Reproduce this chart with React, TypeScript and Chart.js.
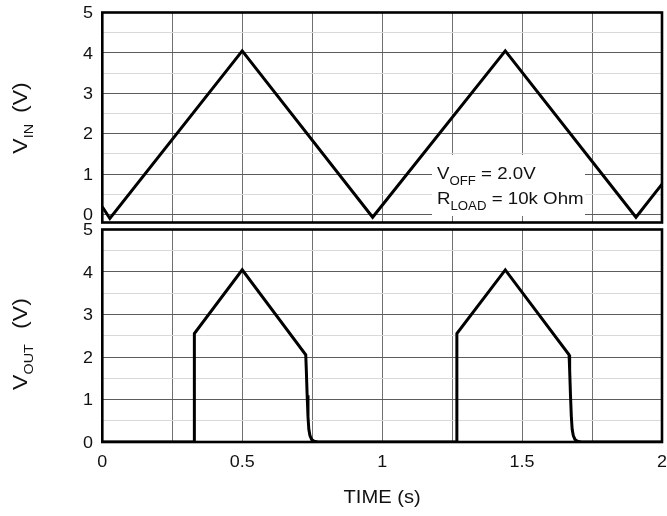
import React, { useEffect, useRef } from 'react';
import { Chart, registerables } from 'chart.js';

Chart.register(...registerables);

const FONT = '"Liberation Sans", Arial, Helvetica, sans-serif';

// Axis grid / tick definitions
const timeGridValues = [0, 0.25, 0.5, 0.75, 1, 1.25, 1.5, 1.75, 2];
const timeTickValues = [0, 0.5, 1, 1.5, 2];
const timeTickLabels = ['0', '0.5', '1', '1.5', '2'];
const voltGridValues = [0, 0.5, 1, 1.5, 2, 2.5, 3, 3.5, 4, 4.5, 5];
const voltTickValues = [0, 1, 2, 3, 4, 5];
const voltTickLabels = ['0', '1', '2', '3', '4', '5'];

// VIN triangle wave (time s, volts)
const vinTime = [0, 0.027, 0.5, 0.966, 1.44, 1.907, 2.0];
const vinVolts = [0.19, -0.1, 4.05, -0.07, 4.05, -0.07, 0.75];

// VOUT (time s, volts)
const voutTime = [
  0, 0.328, 0.329, 0.5, 0.727, 0.729, 0.732, 0.735, 0.738, 0.742, 0.748, 0.757, 0.77,
  1.265, 1.267, 1.44, 1.668, 1.67, 1.673, 1.676, 1.679, 1.683, 1.689, 1.698, 1.711, 2.0,
];
const voutVolts = [
  0, 0, 2.55, 4.05, 2.05, 1.7, 1.1, 0.6, 0.3, 0.15, 0.06, 0.02, 0,
  0, 2.55, 4.05, 2.05, 1.7, 1.1, 0.6, 0.3, 0.15, 0.06, 0.02, 0, 0,
];

type Piece = { text: string; size: number; dy: number; gap?: number };

function drawText(ctx: CanvasRenderingContext2D, text: string, x: number, y: number, size: number, align: 'left' | 'center' | 'right', sx: number) {
  ctx.save();
  ctx.font = `${size}px ${FONT}`;
  ctx.textBaseline = 'alphabetic';
  ctx.textAlign = 'left';
  const w = ctx.measureText(text).width * sx;
  const x0 = align === 'left' ? x : align === 'center' ? x - w / 2 : x - w;
  ctx.translate(x0, y);
  ctx.scale(sx, 1);
  ctx.fillStyle = '#111';
  ctx.fillText(text, 0, 0);
  ctx.restore();
}

function richWidth(ctx: CanvasRenderingContext2D, pieces: Piece[]) {
  let w = 0;
  for (const p of pieces) {
    ctx.font = `${p.size}px ${FONT}`;
    w += ctx.measureText(p.text).width + (p.gap || 0);
  }
  return w;
}

function drawRich(ctx: CanvasRenderingContext2D, pieces: Piece[], startX: number) {
  let cx = startX;
  for (const p of pieces) {
    ctx.font = `${p.size}px ${FONT}`;
    ctx.fillText(p.text, cx, p.dy);
    cx += ctx.measureText(p.text).width + (p.gap || 0);
  }
}

function drawRotatedTitle(ctx: CanvasRenderingContext2D, pieces: Piece[], baseX: number, centerY: number, sx: number) {
  ctx.save();
  ctx.fillStyle = '#111';
  ctx.textBaseline = 'alphabetic';
  ctx.textAlign = 'left';
  ctx.translate(baseX, centerY);
  ctx.rotate(-Math.PI / 2);
  ctx.scale(sx, 1);
  const w = richWidth(ctx, pieces);
  drawRich(ctx, pieces, -w / 2);
  ctx.restore();
}

function drawRichAt(ctx: CanvasRenderingContext2D, pieces: Piece[], x: number, y: number, sx: number) {
  ctx.save();
  ctx.fillStyle = '#111';
  ctx.textBaseline = 'alphabetic';
  ctx.textAlign = 'left';
  ctx.translate(x, y);
  ctx.scale(sx, 1);
  drawRich(ctx, pieces, 0);
  ctx.restore();
}

function drawFrame(chart: any) {
  const { ctx, chartArea } = chart;
  ctx.save();
  ctx.strokeStyle = '#000';
  ctx.lineWidth = 2.6;
  ctx.strokeRect(chartArea.left, chartArea.top, chartArea.right - chartArea.left, chartArea.bottom - chartArea.top);
  ctx.restore();
}

function drawYTicks(chart: any) {
  const ctx = chart.ctx;
  const ys = chart.scales.y;
  voltTickValues.forEach((v, i) => {
    const py = ys.getPixelForValue(v);
    drawText(ctx, voltTickLabels[i], 93, py + 0.36 * 16, 16, 'right', 1.12);
  });
}

function gridColorY(c: any) {
  const v = c.tick ? c.tick.value : 0;
  return Number.isInteger(v) ? '#5c5c5c' : '#d9d9d9';
}

function baseScales(yMin: number) {
  return {
    x: {
      type: 'linear' as const,
      min: 0,
      max: 2,
      afterBuildTicks: (s: any) => {
        s.ticks = timeGridValues.map((v) => ({ value: v }));
      },
      afterFit: (s: any) => {
        s.height = 0;
      },
      ticks: { display: false },
      grid: { color: '#707070', lineWidth: 1, drawTicks: false },
      border: { display: false },
    },
    y: {
      type: 'linear' as const,
      min: yMin,
      max: 5,
      afterBuildTicks: (s: any) => {
        s.ticks = voltGridValues.map((v) => ({ value: v }));
      },
      afterFit: (s: any) => {
        s.width = 102.3;
      },
      ticks: { display: false },
      grid: { color: gridColorY, lineWidth: 1, drawTicks: false },
      border: { display: false },
    },
  };
}

export default function App() {
  const topRef = useRef<HTMLCanvasElement>(null);
  const botRef = useRef<HTMLCanvasElement>(null);

  useEffect(() => {
    const topPlugin = {
      id: 'topDecor',
      beforeDatasetsDraw(chart: any) {
        const ctx = chart.ctx;
        ctx.save();
        ctx.fillStyle = '#fff';
        ctx.fillRect(432, 155, 153, 61);
        ctx.restore();
      },
      afterDraw(chart: any) {
        const ctx = chart.ctx;
        drawFrame(chart);
        drawYTicks(chart);
        drawRotatedTitle(
          ctx,
          [
            { text: 'V', size: 21, dy: 0 },
            { text: 'IN', size: 13, dy: 6, gap: 10 },
            { text: '(V)', size: 21, dy: 0 },
          ],
          27,
          118,
          1.1
        );
        drawRichAt(
          ctx,
          [
            { text: 'V', size: 17, dy: 0 },
            { text: 'OFF', size: 12, dy: 6 },
            { text: ' = 2.0V', size: 17, dy: 0 },
          ],
          437,
          179,
          1.1
        );
        drawRichAt(
          ctx,
          [
            { text: 'R', size: 17, dy: 0 },
            { text: 'LOAD', size: 12, dy: 6 },
            { text: ' = 10k Ohm', size: 17, dy: 0 },
          ],
          437,
          204,
          1.1
        );
      },
    };

    const botPlugin = {
      id: 'botDecor',
      afterDraw(chart: any) {
        const ctx = chart.ctx;
        drawFrame(chart);
        drawYTicks(chart);
        const xs = chart.scales.x;
        const bottom = chart.chartArea.bottom;
        timeTickValues.forEach((v, i) => {
          drawText(ctx, timeTickLabels[i], xs.getPixelForValue(v), bottom + 24.5, 16, 'center', 1.12);
        });
        drawRotatedTitle(
          ctx,
          [
            { text: 'V', size: 21, dy: 0 },
            { text: 'OUT', size: 13, dy: 6, gap: 14 },
            { text: '(V)', size: 21, dy: 0 },
          ],
          27,
          134,
          1.1
        );
        drawText(ctx, 'TIME (s)', xs.getPixelForValue(1), 293, 19, 'center', 1.06);
      },
    };

    const c1 = new Chart(topRef.current as HTMLCanvasElement, {
      type: 'line',
      data: {
        datasets: [
          {
            data: vinTime.map((t, i) => ({ x: t, y: vinVolts[i] })),
            borderColor: '#000',
            borderWidth: 3,
            pointRadius: 0,
            tension: 0,
            fill: false,
          },
        ],
      },
      options: {
        animation: false,
        responsive: false,
        events: [],
        layout: { padding: { left: 0, right: 5, top: 12.5, bottom: 17.5 } },
        plugins: { legend: { display: false }, tooltip: { enabled: false } },
        scales: baseScales(-0.2) as any,
      },
      plugins: [topPlugin],
    });

    const c2 = new Chart(botRef.current as HTMLCanvasElement, {
      type: 'line',
      data: {
        datasets: [
          {
            data: voutTime.map((t, i) => ({ x: t, y: voutVolts[i] })),
            borderColor: '#000',
            borderWidth: 3,
            pointRadius: 0,
            tension: 0,
            fill: false,
          },
        ],
      },
      options: {
        animation: false,
        responsive: false,
        events: [],
        layout: { padding: { left: 0, right: 5, top: 19.5, bottom: 74 } },
        plugins: { legend: { display: false }, tooltip: { enabled: false } },
        scales: baseScales(0) as any,
      },
      plugins: [botPlugin],
    });

    return () => {
      c1.destroy();
      c2.destroy();
    };
  }, []);

  return (
    <div style={{ position: 'absolute', left: 0, top: 0, width: 667, height: 516, background: '#fff', overflow: 'hidden' }}>
      <canvas ref={topRef} width={667} height={240} style={{ position: 'absolute', left: 0, top: 0 }} />
      <canvas ref={botRef} width={667} height={306} style={{ position: 'absolute', left: 0, top: 210 }} />
    </div>
  );
}
